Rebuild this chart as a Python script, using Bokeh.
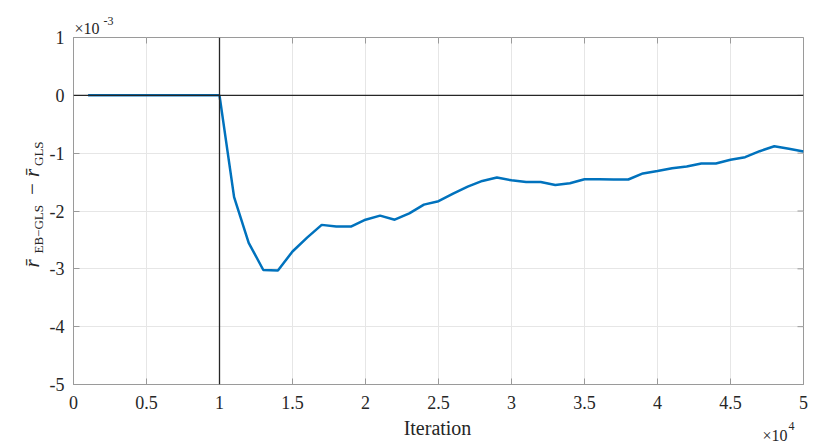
import math
from bokeh.plotting import figure
from bokeh.models import FixedTicker, CustomJSTickFormatter, Span, Label
from bokeh.embed import file_html
from bokeh.resources import INLINE

# ---------------- data ----------------
iterations = [1000, 2000, 3000, 4000, 5000, 6000, 7000, 8000, 9000, 10000,
              11000, 12000, 13000, 14000, 15000, 16000, 17000, 18000, 19000, 20000,
              21000, 22000, 23000, 24000, 25000, 26000, 27000, 28000, 29000, 30000,
              31000, 32000, 33000, 34000, 35000, 36000, 37000, 38000, 39000, 40000,
              41000, 42000, 43000, 44000, 45000, 46000, 47000, 48000, 49000, 50000]
# r_EB-GLS - r_GLS, in units of 1e-3
diff_e3 = [0.0, 0.0, 0.0, 0.0, 0.0, 0.0, 0.0, 0.0, 0.0, 0.0,
           -1.76, -2.55, -3.02, -3.03, -2.70, -2.46, -2.24, -2.27, -2.27, -2.15,
           -2.08, -2.15, -2.04, -1.89, -1.83, -1.70, -1.58, -1.48, -1.42, -1.47,
           -1.50, -1.50, -1.55, -1.52, -1.45, -1.45, -1.455, -1.455, -1.35, -1.31,
           -1.26, -1.23, -1.18, -1.18, -1.115, -1.07, -0.966, -0.88, -0.925, -0.97]
y_exponent = 1e-3
burn_in = 10000
x_ticks = [0, 5000, 10000, 15000, 20000, 25000, 30000, 35000, 40000, 45000, 50000]
y_ticks = [-0.005, -0.004, -0.003, -0.002, -0.001, 0.0, 0.001]
x_label = "Iteration"
times_ten = "\u00d710"
x_exp = "4"
y_exp = "-3"
y_label_main = "r\u0304\u2003\u2003\u2003\u2212 r\u0304"
y_label_sub = "EB\u2212GLS\u2003\u2003\u2003GLS"

values = [v * y_exponent for v in diff_e3]

FONT = "Liberation Serif"
AX_GRAY = "#9a9a9a"
TXT = "#262626"
W, H = 826, 446
FL, FT, FR, FB = 73, 37, 803, 384   # frame edges in page pixels

p = figure(width=W, height=H, output_backend="svg", toolbar_location=None,
           x_range=(0, 50000), y_range=(-0.005, 0.001),
           min_border_left=FL, min_border_right=W - FR, min_border_top=FT,
           min_border_bottom=H - FB)
p.background_fill_color = "white"
p.border_fill_color = "white"
p.outline_line_color = AX_GRAY
p.outline_line_width = 1

xfmt = CustomJSTickFormatter(code="return String(Math.round(tick/1000)/10);")
yfmt = CustomJSTickFormatter(code="return String(Math.round(tick*1000));")

for ax in p.xaxis:
    ax.ticker = FixedTicker(ticks=x_ticks)
    ax.formatter = xfmt
    ax.major_label_standoff = 11
for ax in p.yaxis:
    ax.ticker = FixedTicker(ticks=y_ticks)
    ax.formatter = yfmt
    ax.major_label_standoff = 9

for ax in list(p.xaxis) + list(p.yaxis):
    ax.axis_line_color = AX_GRAY
    ax.major_tick_line_color = AX_GRAY
    ax.major_tick_in = 6
    ax.major_tick_out = 0
    ax.minor_tick_line_color = None
    ax.major_label_text_font = FONT
    ax.major_label_text_font_size = "18px"
    ax.major_label_text_color = TXT

p.grid.grid_line_color = "#e6e6e6"
p.grid.grid_line_width = 1

# ticks on the top and right edges of the box (half of each dash is clipped)
p.scatter(x_ticks, [y_ticks[-1]] * len(x_ticks), marker="dash", size=12, angle=math.pi / 2,
          line_color=AX_GRAY, line_width=1)
p.scatter([x_ticks[-1]] * len(y_ticks), y_ticks, marker="dash", size=12,
          line_color=AX_GRAY, line_width=1)

p.line(iterations, values, line_color="#0072BD", line_width=2.5)

p.add_layout(Span(location=burn_in, dimension="height", line_color="#262626", line_width=1.3))
p.add_layout(Span(location=0, dimension="width", line_color="#262626", line_width=1.3))

# helper: place text by page pixel, anchored at frame bottom-left
def lab(text, px, py, size, panel, align="left", angle=0.0, style="normal"):
    p.add_layout(Label(x=x_ticks[0], y=y_ticks[0], x_offset=px - FL, y_offset=FB - py,
                       text=text, text_font=FONT, text_font_size=f"{size}px",
                       text_font_style=style, text_color=TXT, text_align=align,
                       text_baseline="alphabetic", angle=angle), panel)

lab(x_label, 437, 427, 20, "below", align="center")
lab(times_ten, 762, 435, 16, "above")
lab(x_exp, 788, 425, 12, "right")
lab(times_ten, 74, 28, 16, "above")
lab(y_exp, 103, 20, 12, "right")
r = math.pi / 2
lab(y_label_main, 31, 267, 21, "left", angle=r, style="italic")
lab(y_label_sub, 38, 253, 13, "left", angle=r)

open("out.html", "w").write(file_html(p, INLINE))
